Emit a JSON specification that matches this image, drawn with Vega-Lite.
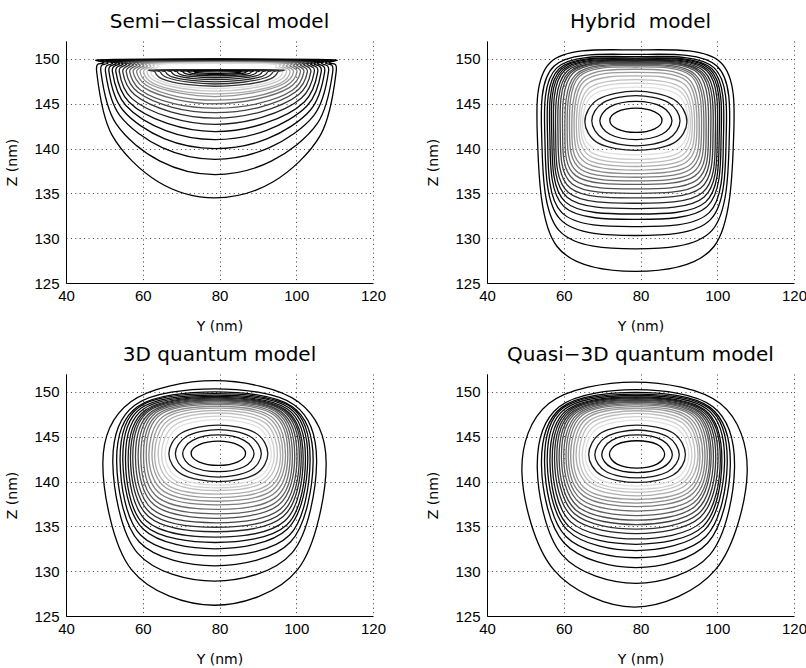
{
  "$schema": "https://vega.github.io/schema/vega-lite/v6.json",
  "autosize": {"type": "pad"},
  "padding": {"left": 5, "top": 12, "right": 0, "bottom": 0},
  "background": "white",
  "columns": 2,
  "spacing": {"row": 91, "column": 114},
  "bounds": "flush",
  "config": {
    "view": {"stroke": null},
    "axis": {
      "domainColor": "#000000",
      "domainWidth": 1,
      "labelFont": "Liberation Sans",
      "labelFontSize": 15,
      "labelColor": "#000000",
      "titleFont": "DejaVu Sans",
      "titleFontSize": 14,
      "titleFontWeight": "normal",
      "titleColor": "#000000",
      "ticks": false,
      "tickSize": 0,
      "grid": true,
      "gridColor": "#3a3a3a",
      "gridDash": [1, 3.4],
      "gridWidth": 1,
      "gridOpacity": 1,
      "labelFlush": false,
      "labelOverlap": false
    },
    "axisX": {"labelBaseline": "alphabetic", "labelPadding": 17, "titlePadding": 16},
    "axisY": {"labelPadding": 7, "titlePadding": 14},
    "title": {"font": "DejaVu Sans", "fontSize": 20, "fontWeight": "normal", "color": "#000000", "offset": 9, "baseline": "alphabetic"}
  },
  "datasets": {
    "semi": [
      {"k":0,"y":52.5,"z":149.95},{"k":0,"y":49.8,"z":149.55},{"k":0,"y":48.0,"z":148.55},{"k":0,"y":52.0,"z":141.5},{"k":0,"y":64.0,"z":136.3},{"k":0,"y":78.8,"z":134.5},{"k":0,"y":94.0,"z":136.3},{"k":0,"y":106.3,"z":141.5},{"k":0,"y":110.4,"z":148.55},{"k":0,"y":108.6,"z":149.55},{"k":0,"y":105.9,"z":149.95},
      {"k":1,"y":53.6,"z":149.92},{"k":1,"y":50.9,"z":149.52},{"k":1,"y":49.1,"z":148.55},{"k":1,"y":53.0,"z":142.8},{"k":1,"y":64.5,"z":138.6},{"k":1,"y":78.8,"z":137.1},{"k":1,"y":93.5,"z":138.6},{"k":1,"y":105.5,"z":142.8},{"k":1,"y":109.5,"z":148.55},{"k":1,"y":107.7,"z":149.52},{"k":1,"y":105.0,"z":149.92},
      {"k":2,"y":54.8,"z":149.89},{"k":2,"y":52.1,"z":149.49},{"k":2,"y":50.3,"z":148.55},{"k":2,"y":54.0,"z":143.7},{"k":2,"y":65.1,"z":140.1},{"k":2,"y":78.8,"z":138.8},{"k":2,"y":93.0,"z":140.1},{"k":2,"y":104.6,"z":143.7},{"k":2,"y":108.4,"z":148.55},{"k":2,"y":106.6,"z":149.49},{"k":2,"y":103.9,"z":149.89},
      {"k":3,"y":55.7,"z":149.85},{"k":3,"y":53.0,"z":149.45},{"k":3,"y":51.2,"z":148.55},{"k":3,"y":54.8,"z":144.3},{"k":3,"y":65.6,"z":141.1},{"k":3,"y":78.8,"z":140.0},{"k":3,"y":92.5,"z":141.1},{"k":3,"y":103.7,"z":144.3},{"k":3,"y":107.4,"z":148.55},{"k":3,"y":105.6,"z":149.45},{"k":3,"y":102.9,"z":149.85},
      {"k":4,"y":56.6,"z":149.82},{"k":4,"y":53.9,"z":149.42},{"k":4,"y":52.1,"z":148.55},{"k":4,"y":55.6,"z":144.8},{"k":4,"y":66.0,"z":142.0},{"k":4,"y":78.8,"z":141.0},{"k":4,"y":92.1,"z":142.0},{"k":4,"y":102.9,"z":144.8},{"k":4,"y":106.5,"z":148.55},{"k":4,"y":104.7,"z":149.42},{"k":4,"y":102.0,"z":149.82},
      {"k":5,"y":57.5,"z":149.79},{"k":5,"y":54.8,"z":149.39},{"k":5,"y":53.0,"z":148.55},{"k":5,"y":56.4,"z":145.2},{"k":5,"y":66.4,"z":142.8},{"k":5,"y":78.8,"z":141.9},{"k":5,"y":91.7,"z":142.8},{"k":5,"y":102.1,"z":145.2},{"k":5,"y":105.6,"z":148.55},{"k":5,"y":103.8,"z":149.39},{"k":5,"y":101.1,"z":149.79},
      {"k":6,"y":58.4,"z":149.76},{"k":6,"y":55.7,"z":149.36},{"k":6,"y":53.9,"z":148.55},{"k":6,"y":57.1,"z":145.6},{"k":6,"y":66.9,"z":143.5},{"k":6,"y":78.8,"z":142.7},{"k":6,"y":91.2,"z":143.5},{"k":6,"y":101.3,"z":145.6},{"k":6,"y":104.7,"z":148.55},{"k":6,"y":102.9,"z":149.36},{"k":6,"y":100.2,"z":149.76},
      {"k":7,"y":59.3,"z":149.73},{"k":7,"y":56.6,"z":149.33},{"k":7,"y":54.8,"z":148.55},{"k":7,"y":57.9,"z":146.0},{"k":7,"y":67.3,"z":144.1},{"k":7,"y":78.8,"z":143.4},{"k":7,"y":90.8,"z":144.1},{"k":7,"y":100.6,"z":146.0},{"k":7,"y":103.8,"z":148.55},{"k":7,"y":102.0,"z":149.33},{"k":7,"y":99.3,"z":149.73},
      {"k":8,"y":60.2,"z":149.7},{"k":8,"y":57.5,"z":149.3},{"k":8,"y":55.7,"z":148.55},{"k":8,"y":58.7,"z":146.3},{"k":8,"y":67.7,"z":144.6},{"k":8,"y":78.8,"z":144.0},{"k":8,"y":90.4,"z":144.6},{"k":8,"y":99.8,"z":146.3},{"k":8,"y":102.9,"z":148.55},{"k":8,"y":101.1,"z":149.3},{"k":8,"y":98.4,"z":149.7},
      {"k":9,"y":61.1,"z":149.66},{"k":9,"y":58.4,"z":149.26},{"k":9,"y":56.6,"z":148.55},{"k":9,"y":59.5,"z":146.5},{"k":9,"y":68.1,"z":145.0},{"k":9,"y":78.8,"z":144.5},{"k":9,"y":89.9,"z":145.0},{"k":9,"y":99.0,"z":146.5},{"k":9,"y":102.0,"z":148.55},{"k":9,"y":100.2,"z":149.26},{"k":9,"y":97.5,"z":149.66},
      {"k":10,"y":62.0,"z":149.63},{"k":10,"y":59.3,"z":149.23},{"k":10,"y":57.5,"z":148.55},{"k":10,"y":60.3,"z":146.8},{"k":10,"y":68.6,"z":145.5},{"k":10,"y":78.8,"z":145.0},{"k":10,"y":89.5,"z":145.5},{"k":10,"y":98.2,"z":146.8},{"k":10,"y":101.1,"z":148.55},{"k":10,"y":99.3,"z":149.23},{"k":10,"y":96.6,"z":149.63},
      {"k":11,"y":62.9,"z":149.6},{"k":11,"y":60.2,"z":149.2},{"k":11,"y":58.4,"z":148.55},{"k":11,"y":61.1,"z":147.0},{"k":11,"y":69.0,"z":145.8},{"k":11,"y":78.8,"z":145.4},{"k":11,"y":89.1,"z":145.8},{"k":11,"y":97.4,"z":147.0},{"k":11,"y":100.2,"z":148.55},{"k":11,"y":98.4,"z":149.2},{"k":11,"y":95.7,"z":149.6},
      {"k":12,"y":63.8,"z":149.57},{"k":12,"y":61.1,"z":149.17},{"k":12,"y":59.3,"z":148.55},{"k":12,"y":61.8,"z":147.2},{"k":12,"y":69.4,"z":146.2},{"k":12,"y":78.8,"z":145.8},{"k":12,"y":88.6,"z":146.2},{"k":12,"y":96.6,"z":147.2},{"k":12,"y":99.3,"z":148.55},{"k":12,"y":97.5,"z":149.17},{"k":12,"y":94.8,"z":149.57},
      {"k":13,"y":64.7,"z":149.53},{"k":13,"y":62.0,"z":149.13},{"k":13,"y":60.2,"z":148.55},{"k":13,"y":62.6,"z":147.3},{"k":13,"y":69.9,"z":146.4},{"k":13,"y":78.8,"z":146.1},{"k":13,"y":88.2,"z":146.4},{"k":13,"y":95.9,"z":147.3},{"k":13,"y":98.4,"z":148.55},{"k":13,"y":96.6,"z":149.13},{"k":13,"y":93.9,"z":149.53},
      {"k":14,"y":65.6,"z":149.5},{"k":14,"y":62.9,"z":149.1},{"k":14,"y":61.1,"z":148.55},{"k":14,"y":63.4,"z":147.5},{"k":14,"y":70.3,"z":146.7},{"k":14,"y":78.8,"z":146.4},{"k":14,"y":87.8,"z":146.7},{"k":14,"y":95.1,"z":147.5},{"k":14,"y":97.5,"z":148.55},{"k":14,"y":95.7,"z":149.1},{"k":14,"y":93.0,"z":149.5},
      {"k":15,"y":66.6,"z":149.47},{"k":15,"y":63.9,"z":149.07},{"k":15,"y":62.1,"z":148.55},{"k":15,"y":64.3,"z":147.6},{"k":15,"y":70.8,"z":146.9},{"k":15,"y":78.8,"z":146.7},{"k":15,"y":87.3,"z":146.9},{"k":15,"y":94.2,"z":147.6},{"k":15,"y":96.5,"z":148.55},{"k":15,"y":94.7,"z":149.07},{"k":15,"y":92.0,"z":149.47},
      {"k":16,"y":64.2,"z":148.78},{"k":16,"y":63.2,"z":148.55},{"k":16,"y":65.2,"z":147.75},{"k":16,"y":71.3,"z":147.15},{"k":16,"y":78.8,"z":146.95},{"k":16,"y":86.7,"z":147.15},{"k":16,"y":93.1,"z":147.75},{"k":16,"y":95.2,"z":148.55},{"k":16,"y":94.2,"z":148.78},
      {"k":17,"y":65.6,"z":148.76},{"k":17,"y":64.6,"z":148.55},{"k":17,"y":66.5,"z":147.9},{"k":17,"y":72.0,"z":147.4},{"k":17,"y":78.8,"z":147.2},{"k":17,"y":86.1,"z":147.4},{"k":17,"y":91.9,"z":147.9},{"k":17,"y":93.9,"z":148.55},{"k":17,"y":92.9,"z":148.76},
      {"k":18,"y":67.0,"z":148.74},{"k":18,"y":66.0,"z":148.55},{"k":18,"y":67.7,"z":148.0},{"k":18,"y":72.7,"z":147.6},{"k":18,"y":78.8,"z":147.45},{"k":18,"y":85.4,"z":147.6},{"k":18,"y":90.7,"z":148.0},{"k":18,"y":92.5,"z":148.55},{"k":18,"y":91.5,"z":148.74},
      {"k":19,"y":68.5,"z":148.72},{"k":19,"y":67.5,"z":148.55},{"k":19,"y":69.0,"z":148.1},{"k":19,"y":73.4,"z":147.8},{"k":19,"y":78.8,"z":147.7},{"k":19,"y":84.7,"z":147.8},{"k":19,"y":89.5,"z":148.1},{"k":19,"y":91.1,"z":148.55},{"k":19,"y":90.1,"z":148.72},
      {"k":20,"y":70.0,"z":148.7},{"k":20,"y":69.0,"z":148.55},{"k":20,"y":70.3,"z":148.2},{"k":20,"y":74.1,"z":148.0},{"k":20,"y":78.8,"z":147.9},{"k":20,"y":84.0,"z":148.0},{"k":20,"y":88.3,"z":148.2},{"k":20,"y":89.7,"z":148.55},{"k":20,"y":88.7,"z":148.7},
      {"k":21,"y":71.5,"z":148.68},{"k":21,"y":70.5,"z":148.55},{"k":21,"y":71.6,"z":148.3},{"k":21,"y":74.8,"z":148.15},{"k":21,"y":78.8,"z":148.1},{"k":21,"y":83.4,"z":148.15},{"k":21,"y":87.1,"z":148.3},{"k":21,"y":88.3,"z":148.55},{"k":21,"y":87.3,"z":148.68},
      {"k":22,"y":73.0,"z":148.66},{"k":22,"y":72.0,"z":148.55},{"k":22,"y":72.9,"z":148.4},{"k":22,"y":75.5,"z":148.3},{"k":22,"y":78.8,"z":148.25},{"k":22,"y":82.7,"z":148.3},{"k":22,"y":85.9,"z":148.4},{"k":22,"y":86.9,"z":148.55},{"k":22,"y":85.9,"z":148.66},
      {"k":23,"y":74.5,"z":148.64},{"k":23,"y":73.5,"z":148.55},{"k":23,"y":74.2,"z":148.48},{"k":23,"y":76.3,"z":148.42},{"k":23,"y":78.8,"z":148.4},{"k":23,"y":82.0,"z":148.42},{"k":23,"y":84.6,"z":148.48},{"k":23,"y":85.5,"z":148.55},{"k":23,"y":84.5,"z":148.64}
    ],
    "hybrid": [
      {"k":0,"y":104.2,"z":140.5},{"k":0,"y":100.9,"z":149.6},{"k":0,"y":78.7,"z":151.0},{"k":0,"y":56.5,"z":149.6},{"k":0,"y":53.2,"z":140.5},{"k":0,"y":58.2,"z":129.1},{"k":0,"y":78.7,"z":126.3},{"k":0,"y":99.2,"z":129.1},
      {"k":1,"y":103.1,"z":140.7},{"k":1,"y":99.9,"z":149.2},{"k":1,"y":78.7,"z":150.5},{"k":1,"y":57.5,"z":149.2},{"k":1,"y":54.3,"z":140.7},{"k":1,"y":58.7,"z":130.9},{"k":1,"y":78.7,"z":128.8},{"k":1,"y":98.7,"z":130.9},
      {"k":2,"y":102.3,"z":140.9},{"k":2,"y":99.2,"z":149.0},{"k":2,"y":78.7,"z":150.25},{"k":2,"y":58.2,"z":149.0},{"k":2,"y":55.1,"z":140.9},{"k":2,"y":59.1,"z":132.1},{"k":2,"y":78.7,"z":130.3},{"k":2,"y":98.3,"z":132.1},
      {"k":3,"y":101.6,"z":141.0},{"k":3,"y":98.6,"z":148.9},{"k":3,"y":78.7,"z":150.1},{"k":3,"y":58.8,"z":148.9},{"k":3,"y":55.8,"z":141.0},{"k":3,"y":59.5,"z":132.85},{"k":3,"y":78.7,"z":131.3},{"k":3,"y":97.9,"z":132.85},
      {"k":4,"y":101.0,"z":141.1},{"k":4,"y":98.1,"z":148.85},{"k":4,"y":78.7,"z":150.0},{"k":4,"y":59.3,"z":148.85},{"k":4,"y":56.4,"z":141.1},{"k":4,"y":60.0,"z":133.55},{"k":4,"y":78.7,"z":132.1},{"k":4,"y":97.4,"z":133.55},
      {"k":5,"y":100.5,"z":141.2},{"k":5,"y":97.7,"z":148.75},{"k":5,"y":78.7,"z":149.9},{"k":5,"y":59.7,"z":148.75},{"k":5,"y":56.9,"z":141.2},{"k":5,"y":60.4,"z":134.05},{"k":5,"y":78.7,"z":132.7},{"k":5,"y":97.0,"z":134.05},
      {"k":6,"y":100.0,"z":141.3},{"k":6,"y":97.2,"z":148.7},{"k":6,"y":78.7,"z":149.82},{"k":6,"y":60.2,"z":148.7},{"k":6,"y":57.4,"z":141.3},{"k":6,"y":60.8,"z":134.6},{"k":6,"y":78.7,"z":133.3},{"k":6,"y":96.6,"z":134.6},
      {"k":7,"y":99.5,"z":141.4},{"k":7,"y":96.6,"z":148.6},{"k":7,"y":78.7,"z":149.74},{"k":7,"y":60.8,"z":148.6},{"k":7,"y":57.9,"z":141.4},{"k":7,"y":61.2,"z":135.1},{"k":7,"y":78.7,"z":133.9},{"k":7,"y":96.2,"z":135.1},
      {"k":8,"y":98.9,"z":141.5},{"k":8,"y":96.1,"z":148.5},{"k":8,"y":78.7,"z":149.66},{"k":8,"y":61.3,"z":148.5},{"k":8,"y":58.5,"z":141.5},{"k":8,"y":61.7,"z":135.6},{"k":8,"y":78.7,"z":134.5},{"k":8,"y":95.7,"z":135.6},
      {"k":9,"y":98.3,"z":141.6},{"k":9,"y":95.6,"z":148.45},{"k":9,"y":78.7,"z":149.58},{"k":9,"y":61.8,"z":148.45},{"k":9,"y":59.1,"z":141.6},{"k":9,"y":62.2,"z":136.05},{"k":9,"y":78.7,"z":135.0},{"k":9,"y":95.2,"z":136.05},
      {"k":10,"y":97.7,"z":141.7},{"k":10,"y":95.0,"z":148.4},{"k":10,"y":78.7,"z":149.5},{"k":10,"y":62.4,"z":148.4},{"k":10,"y":59.7,"z":141.7},{"k":10,"y":62.7,"z":136.5},{"k":10,"y":78.7,"z":135.5},{"k":10,"y":94.7,"z":136.5},
      {"k":11,"y":97.1,"z":141.8},{"k":11,"y":94.3,"z":148.25},{"k":11,"y":78.7,"z":149.4},{"k":11,"y":63.1,"z":148.25},{"k":11,"y":60.3,"z":141.8},{"k":11,"y":63.2,"z":136.95},{"k":11,"y":78.7,"z":136.0},{"k":11,"y":94.2,"z":136.95},
      {"k":12,"y":96.5,"z":141.9},{"k":12,"y":93.8,"z":148.15},{"k":12,"y":78.7,"z":149.28},{"k":12,"y":63.6,"z":148.15},{"k":12,"y":60.9,"z":141.9},{"k":12,"y":63.8,"z":137.3},{"k":12,"y":78.7,"z":136.4},{"k":12,"y":93.6,"z":137.3},
      {"k":13,"y":95.9,"z":142.0},{"k":13,"y":93.3,"z":148.05},{"k":13,"y":78.7,"z":149.1},{"k":13,"y":64.1,"z":148.05},{"k":13,"y":61.5,"z":142.0},{"k":13,"y":64.4,"z":137.7},{"k":13,"y":78.7,"z":136.8},{"k":13,"y":93.0,"z":137.7},
      {"k":14,"y":95.3,"z":142.1},{"k":14,"y":92.6,"z":147.75},{"k":14,"y":78.7,"z":148.85},{"k":14,"y":64.8,"z":147.75},{"k":14,"y":62.1,"z":142.1},{"k":14,"y":64.9,"z":138.05},{"k":14,"y":78.7,"z":137.2},{"k":14,"y":92.5,"z":138.05},
      {"k":15,"y":94.7,"z":142.2},{"k":15,"y":92.1,"z":147.5},{"k":15,"y":78.7,"z":148.5},{"k":15,"y":65.3,"z":147.5},{"k":15,"y":62.7,"z":142.2},{"k":15,"y":65.6,"z":138.45},{"k":15,"y":78.7,"z":137.6},{"k":15,"y":91.8,"z":138.45},
      {"k":16,"y":94.1,"z":142.4},{"k":16,"y":91.5,"z":147.15},{"k":16,"y":78.7,"z":148.1},{"k":16,"y":65.9,"z":147.15},{"k":16,"y":63.3,"z":142.4},{"k":16,"y":66.1,"z":138.8},{"k":16,"y":78.7,"z":138.0},{"k":16,"y":91.3,"z":138.8},
      {"k":17,"y":93.5,"z":142.5},{"k":17,"y":90.8,"z":146.75},{"k":17,"y":78.7,"z":147.7},{"k":17,"y":66.6,"z":146.75},{"k":17,"y":63.9,"z":142.5},{"k":17,"y":66.7,"z":139.2},{"k":17,"y":78.7,"z":138.4},{"k":17,"y":90.7,"z":139.2},
      {"k":18,"y":93.0,"z":142.6},{"k":18,"y":90.3,"z":146.4},{"k":18,"y":78.7,"z":147.3},{"k":18,"y":67.1,"z":146.4},{"k":18,"y":64.4,"z":142.6},{"k":18,"y":67.3,"z":139.55},{"k":18,"y":78.7,"z":138.8},{"k":18,"y":90.1,"z":139.55},
      {"k":19,"y":92.5,"z":142.7},{"k":19,"y":89.7,"z":146.0},{"k":19,"y":78.7,"z":146.85},{"k":19,"y":67.7,"z":146.0},{"k":19,"y":64.9,"z":142.7},{"k":19,"y":67.8,"z":140.0},{"k":19,"y":78.7,"z":139.3},{"k":19,"y":89.6,"z":140.0},
      {"k":20,"y":92.1,"z":143.0},{"k":20,"y":88.6,"z":145.5},{"k":20,"y":78.8,"z":146.4},{"k":20,"y":69.0,"z":145.5},{"k":20,"y":65.5,"z":143.0},{"k":20,"y":69.0,"z":140.6},{"k":20,"y":78.8,"z":139.8},{"k":20,"y":88.6,"z":140.6},
      {"k":21,"y":90.3,"z":143.1},{"k":21,"y":87.2,"z":145.15},{"k":21,"y":78.8,"z":145.9},{"k":21,"y":70.4,"z":145.15},{"k":21,"y":67.3,"z":143.1},{"k":21,"y":70.4,"z":141.05},{"k":21,"y":78.8,"z":140.3},{"k":21,"y":87.2,"z":141.05},
      {"k":22,"y":88.2,"z":143.1},{"k":22,"y":85.6,"z":144.65},{"k":22,"y":78.8,"z":145.26},{"k":22,"y":72.0,"z":144.65},{"k":22,"y":69.4,"z":143.1},{"k":22,"y":72.0,"z":141.6},{"k":22,"y":78.8,"z":141.0},{"k":22,"y":85.6,"z":141.6},
      {"k":23,"y":85.6,"z":143.15},{"k":23,"y":83.7,"z":144.1},{"k":23,"y":78.8,"z":144.5},{"k":23,"y":73.9,"z":144.1},{"k":23,"y":72.0,"z":143.15},{"k":23,"y":73.9,"z":142.2},{"k":23,"y":78.8,"z":141.8},{"k":23,"y":83.7,"z":142.2}
    ],
    "full3d": [
      {"k":0,"y":107.8,"z":142.0},{"k":0,"y":100.5,"z":148.9},{"k":0,"y":78.7,"z":151.25},{"k":0,"y":56.9,"z":148.9},{"k":0,"y":49.6,"z":142.0},{"k":0,"y":57.0,"z":130.2},{"k":0,"y":78.7,"z":126.2},{"k":0,"y":100.4,"z":130.2},
      {"k":1,"y":105.3,"z":142.1},{"k":1,"y":99.5,"z":148.55},{"k":1,"y":78.75,"z":150.35},{"k":1,"y":58.0,"z":148.55},{"k":1,"y":52.2,"z":142.1},{"k":1,"y":58.6,"z":132.05},{"k":1,"y":78.75,"z":128.9},{"k":1,"y":98.9,"z":132.05},
      {"k":2,"y":104.4,"z":142.2},{"k":2,"y":99.0,"z":148.35},{"k":2,"y":78.8,"z":150.0},{"k":2,"y":58.6,"z":148.35},{"k":2,"y":53.2,"z":142.2},{"k":2,"y":59.1,"z":133.25},{"k":2,"y":78.8,"z":130.6},{"k":2,"y":98.5,"z":133.25},
      {"k":3,"y":103.6,"z":142.3},{"k":3,"y":98.7,"z":148.3},{"k":3,"y":78.85,"z":149.8},{"k":3,"y":59.0,"z":148.3},{"k":3,"y":54.1,"z":142.3},{"k":3,"y":59.5,"z":134.0},{"k":3,"y":78.85,"z":131.7},{"k":3,"y":98.2,"z":134.0},
      {"k":4,"y":103.0,"z":142.4},{"k":4,"y":98.2,"z":148.2},{"k":4,"y":78.9,"z":149.65},{"k":4,"y":59.6,"z":148.2},{"k":4,"y":54.8,"z":142.4},{"k":4,"y":60.1,"z":134.7},{"k":4,"y":78.9,"z":132.5},{"k":4,"y":97.7,"z":134.7},
      {"k":5,"y":102.4,"z":142.5},{"k":5,"y":97.7,"z":148.1},{"k":5,"y":78.95,"z":149.5},{"k":5,"y":60.2,"z":148.1},{"k":5,"y":55.5,"z":142.5},{"k":5,"y":60.4,"z":135.15},{"k":5,"y":78.95,"z":133.2},{"k":5,"y":97.5,"z":135.15},
      {"k":6,"y":101.8,"z":142.5},{"k":6,"y":97.2,"z":148.0},{"k":6,"y":79.0,"z":149.4},{"k":6,"y":60.8,"z":148.0},{"k":6,"y":56.2,"z":142.5},{"k":6,"y":61.0,"z":135.6},{"k":6,"y":79.0,"z":133.8},{"k":6,"y":97.0,"z":135.6},
      {"k":7,"y":101.3,"z":142.6},{"k":7,"y":96.9,"z":147.95},{"k":7,"y":79.05,"z":149.3},{"k":7,"y":61.3,"z":147.95},{"k":7,"y":56.8,"z":142.6},{"k":7,"y":61.5,"z":136.1},{"k":7,"y":79.05,"z":134.4},{"k":7,"y":96.6,"z":136.1},
      {"k":8,"y":100.8,"z":142.6},{"k":8,"y":96.5,"z":147.9},{"k":8,"y":79.1,"z":149.2},{"k":8,"y":61.7,"z":147.9},{"k":8,"y":57.4,"z":142.6},{"k":8,"y":62.0,"z":136.5},{"k":8,"y":79.1,"z":134.9},{"k":8,"y":96.2,"z":136.5},
      {"k":9,"y":100.2,"z":142.7},{"k":9,"y":96.0,"z":147.8},{"k":9,"y":79.15,"z":149.1},{"k":9,"y":62.3,"z":147.8},{"k":9,"y":58.1,"z":142.7},{"k":9,"y":62.5,"z":136.9},{"k":9,"y":79.15,"z":135.4},{"k":9,"y":95.8,"z":136.9},
      {"k":10,"y":99.6,"z":142.7},{"k":10,"y":95.5,"z":147.75},{"k":10,"y":79.2,"z":149.0},{"k":10,"y":62.9,"z":147.75},{"k":10,"y":58.8,"z":142.7},{"k":10,"y":63.1,"z":137.35},{"k":10,"y":79.2,"z":135.9},{"k":10,"y":95.3,"z":137.35},
      {"k":11,"y":99.0,"z":142.8},{"k":11,"y":95.0,"z":147.7},{"k":11,"y":79.25,"z":148.9},{"k":11,"y":63.5,"z":147.7},{"k":11,"y":59.5,"z":142.8},{"k":11,"y":63.6,"z":137.75},{"k":11,"y":79.25,"z":136.4},{"k":11,"y":94.9,"z":137.75},
      {"k":12,"y":98.4,"z":142.8},{"k":12,"y":94.6,"z":147.55},{"k":12,"y":79.3,"z":148.75},{"k":12,"y":64.0,"z":147.55},{"k":12,"y":60.2,"z":142.8},{"k":12,"y":64.2,"z":138.15},{"k":12,"y":79.3,"z":136.9},{"k":12,"y":94.4,"z":138.15},
      {"k":13,"y":97.8,"z":142.9},{"k":13,"y":94.1,"z":147.45},{"k":13,"y":79.35,"z":148.6},{"k":13,"y":64.6,"z":147.45},{"k":13,"y":60.9,"z":142.9},{"k":13,"y":64.8,"z":138.55},{"k":13,"y":79.35,"z":137.4},{"k":13,"y":93.9,"z":138.55},
      {"k":14,"y":97.2,"z":142.9},{"k":14,"y":93.5,"z":147.25},{"k":14,"y":79.4,"z":148.4},{"k":14,"y":65.3,"z":147.25},{"k":14,"y":61.6,"z":142.9},{"k":14,"y":65.5,"z":138.9},{"k":14,"y":79.4,"z":137.8},{"k":14,"y":93.3,"z":138.9},
      {"k":15,"y":96.5,"z":143.0},{"k":15,"y":92.9,"z":147.1},{"k":15,"y":79.45,"z":148.2},{"k":15,"y":66.0,"z":147.1},{"k":15,"y":62.4,"z":143.0},{"k":15,"y":66.2,"z":139.25},{"k":15,"y":79.45,"z":138.2},{"k":15,"y":92.8,"z":139.25},
      {"k":16,"y":95.9,"z":143.0},{"k":16,"y":92.3,"z":146.85},{"k":16,"y":79.5,"z":147.95},{"k":16,"y":66.7,"z":146.85},{"k":16,"y":63.1,"z":143.0},{"k":16,"y":66.7,"z":139.55},{"k":16,"y":79.5,"z":138.6},{"k":16,"y":92.3,"z":139.55},
      {"k":17,"y":95.1,"z":143.0},{"k":17,"y":91.7,"z":146.6},{"k":17,"y":79.55,"z":147.65},{"k":17,"y":67.4,"z":146.6},{"k":17,"y":64.0,"z":143.0},{"k":17,"y":67.6,"z":139.9},{"k":17,"y":79.55,"z":139.0},{"k":17,"y":91.5,"z":139.9},
      {"k":18,"y":94.3,"z":143.05},{"k":18,"y":90.9,"z":146.3},{"k":18,"y":79.6,"z":147.3},{"k":18,"y":68.3,"z":146.3},{"k":18,"y":64.9,"z":143.05},{"k":18,"y":68.3,"z":140.15},{"k":18,"y":79.6,"z":139.3},{"k":18,"y":90.9,"z":140.15},
      {"k":19,"y":93.5,"z":143.05},{"k":19,"y":90.2,"z":146.0},{"k":19,"y":79.65,"z":146.9},{"k":19,"y":69.1,"z":146.0},{"k":19,"y":65.8,"z":143.05},{"k":19,"y":69.1,"z":140.45},{"k":19,"y":79.65,"z":139.6},{"k":19,"y":90.2,"z":140.45},
      {"k":20,"y":92.6,"z":143.1},{"k":20,"y":89.3,"z":145.45},{"k":20,"y":79.7,"z":146.3},{"k":20,"y":70.2,"z":145.45},{"k":20,"y":66.8,"z":143.1},{"k":20,"y":70.2,"z":140.8},{"k":20,"y":79.7,"z":140.0},{"k":20,"y":89.3,"z":140.8},
      {"k":21,"y":90.9,"z":143.1},{"k":21,"y":87.9,"z":145.05},{"k":21,"y":79.7,"z":145.8},{"k":21,"y":71.5,"z":145.05},{"k":21,"y":68.5,"z":143.1},{"k":21,"y":71.5,"z":141.2},{"k":21,"y":79.7,"z":140.5},{"k":21,"y":87.9,"z":141.2},
      {"k":22,"y":89.0,"z":143.1},{"k":22,"y":86.4,"z":144.6},{"k":22,"y":79.7,"z":145.2},{"k":22,"y":73.0,"z":144.6},{"k":22,"y":70.4,"z":143.1},{"k":22,"y":73.0,"z":141.65},{"k":22,"y":79.7,"z":141.1},{"k":22,"y":86.4,"z":141.65},
      {"k":23,"y":86.8,"z":143.15},{"k":23,"y":84.8,"z":144.1},{"k":23,"y":79.7,"z":144.5},{"k":23,"y":74.6,"z":144.1},{"k":23,"y":72.6,"z":143.15},{"k":23,"y":74.6,"z":142.2},{"k":23,"y":79.7,"z":141.8},{"k":23,"y":84.8,"z":142.2}
    ],
    "quasi3d": [
      {"k":0,"y":107.8,"z":141.0},{"k":0,"y":100.8,"z":148.7},{"k":0,"y":78.45,"z":151.1},{"k":0,"y":56.1,"z":148.7},{"k":0,"y":49.1,"z":141.0},{"k":0,"y":57.3,"z":130.2},{"k":0,"y":78.45,"z":126.0},{"k":0,"y":99.6,"z":130.2},
      {"k":1,"y":104.5,"z":141.5},{"k":1,"y":98.9,"z":148.35},{"k":1,"y":78.8,"z":150.25},{"k":1,"y":58.8,"z":148.35},{"k":1,"y":53.1,"z":141.5},{"k":1,"y":59.5,"z":131.85},{"k":1,"y":78.8,"z":128.65},{"k":1,"y":98.1,"z":131.85},
      {"k":2,"y":103.4,"z":141.8},{"k":2,"y":98.2,"z":148.25},{"k":2,"y":78.8,"z":149.95},{"k":2,"y":59.4,"z":148.25},{"k":2,"y":54.2,"z":141.8},{"k":2,"y":60.1,"z":133.15},{"k":2,"y":78.8,"z":130.4},{"k":2,"y":97.5,"z":133.15},
      {"k":3,"y":102.6,"z":142.0},{"k":3,"y":97.8,"z":148.2},{"k":3,"y":78.8,"z":149.75},{"k":3,"y":59.8,"z":148.2},{"k":3,"y":55.0,"z":142.0},{"k":3,"y":60.5,"z":133.9},{"k":3,"y":78.8,"z":131.5},{"k":3,"y":97.1,"z":133.9},
      {"k":4,"y":101.9,"z":142.1},{"k":4,"y":97.3,"z":148.1},{"k":4,"y":78.8,"z":149.6},{"k":4,"y":60.3,"z":148.1},{"k":4,"y":55.7,"z":142.1},{"k":4,"y":61.0,"z":134.55},{"k":4,"y":78.8,"z":132.3},{"k":4,"y":96.6,"z":134.55},
      {"k":5,"y":101.2,"z":142.2},{"k":5,"y":96.7,"z":148.0},{"k":5,"y":78.8,"z":149.45},{"k":5,"y":60.9,"z":148.0},{"k":5,"y":56.4,"z":142.2},{"k":5,"y":61.3,"z":135.0},{"k":5,"y":78.8,"z":133.0},{"k":5,"y":96.3,"z":135.0},
      {"k":6,"y":100.8,"z":142.3},{"k":6,"y":96.4,"z":147.95},{"k":6,"y":78.9,"z":149.35},{"k":6,"y":61.4,"z":147.95},{"k":6,"y":57.0,"z":142.3},{"k":6,"y":61.8,"z":135.5},{"k":6,"y":78.9,"z":133.6},{"k":6,"y":96.0,"z":135.5},
      {"k":7,"y":100.2,"z":142.4},{"k":7,"y":95.9,"z":147.9},{"k":7,"y":78.9,"z":149.25},{"k":7,"y":61.9,"z":147.9},{"k":7,"y":57.6,"z":142.4},{"k":7,"y":62.3,"z":136.0},{"k":7,"y":78.9,"z":134.2},{"k":7,"y":95.5,"z":136.0},
      {"k":8,"y":99.6,"z":142.5},{"k":8,"y":95.5,"z":147.8},{"k":8,"y":78.9,"z":149.15},{"k":8,"y":62.3,"z":147.8},{"k":8,"y":58.2,"z":142.5},{"k":8,"y":62.8,"z":136.4},{"k":8,"y":78.9,"z":134.7},{"k":8,"y":95.1,"z":136.4},
      {"k":9,"y":99.0,"z":142.5},{"k":9,"y":95.0,"z":147.75},{"k":9,"y":78.9,"z":149.05},{"k":9,"y":62.8,"z":147.75},{"k":9,"y":58.8,"z":142.5},{"k":9,"y":63.2,"z":136.8},{"k":9,"y":78.9,"z":135.2},{"k":9,"y":94.6,"z":136.8},
      {"k":10,"y":98.4,"z":142.6},{"k":10,"y":94.5,"z":147.7},{"k":10,"y":78.9,"z":148.95},{"k":10,"y":63.3,"z":147.7},{"k":10,"y":59.4,"z":142.6},{"k":10,"y":63.7,"z":137.2},{"k":10,"y":78.9,"z":135.7},{"k":10,"y":94.1,"z":137.2},
      {"k":11,"y":98.0,"z":142.6},{"k":11,"y":94.2,"z":147.6},{"k":11,"y":79.0,"z":148.85},{"k":11,"y":63.8,"z":147.6},{"k":11,"y":60.0,"z":142.6},{"k":11,"y":64.2,"z":137.6},{"k":11,"y":79.0,"z":136.2},{"k":11,"y":93.8,"z":137.6},
      {"k":12,"y":97.4,"z":142.7},{"k":12,"y":93.7,"z":147.5},{"k":12,"y":79.0,"z":148.7},{"k":12,"y":64.3,"z":147.5},{"k":12,"y":60.6,"z":142.7},{"k":12,"y":64.6,"z":138.0},{"k":12,"y":79.0,"z":136.7},{"k":12,"y":93.4,"z":138.0},
      {"k":13,"y":96.8,"z":142.7},{"k":13,"y":93.2,"z":147.4},{"k":13,"y":79.0,"z":148.55},{"k":13,"y":64.8,"z":147.4},{"k":13,"y":61.2,"z":142.7},{"k":13,"y":65.1,"z":138.4},{"k":13,"y":79.0,"z":137.2},{"k":13,"y":92.9,"z":138.4},
      {"k":14,"y":96.2,"z":142.8},{"k":14,"y":92.6,"z":147.2},{"k":14,"y":79.0,"z":148.35},{"k":14,"y":65.4,"z":147.2},{"k":14,"y":61.8,"z":142.8},{"k":14,"y":65.6,"z":138.75},{"k":14,"y":79.0,"z":137.6},{"k":14,"y":92.4,"z":138.75},
      {"k":15,"y":95.5,"z":142.8},{"k":15,"y":92.0,"z":147.05},{"k":15,"y":79.0,"z":148.15},{"k":15,"y":66.0,"z":147.05},{"k":15,"y":62.5,"z":142.8},{"k":15,"y":66.1,"z":139.05},{"k":15,"y":79.0,"z":138.0},{"k":15,"y":91.9,"z":139.05},
      {"k":16,"y":95.0,"z":142.9},{"k":16,"y":91.5,"z":146.8},{"k":16,"y":79.1,"z":147.9},{"k":16,"y":66.7,"z":146.8},{"k":16,"y":63.2,"z":142.9},{"k":16,"y":66.9,"z":139.45},{"k":16,"y":79.1,"z":138.4},{"k":16,"y":91.3,"z":139.45},
      {"k":17,"y":94.2,"z":142.9},{"k":17,"y":90.9,"z":146.55},{"k":17,"y":79.1,"z":147.6},{"k":17,"y":67.3,"z":146.55},{"k":17,"y":64.0,"z":142.9},{"k":17,"y":67.5,"z":139.75},{"k":17,"y":79.1,"z":138.8},{"k":17,"y":90.7,"z":139.75},
      {"k":18,"y":93.4,"z":142.95},{"k":18,"y":90.1,"z":146.25},{"k":18,"y":79.1,"z":147.25},{"k":18,"y":68.1,"z":146.25},{"k":18,"y":64.8,"z":142.95},{"k":18,"y":68.1,"z":140.0},{"k":18,"y":79.1,"z":139.15},{"k":18,"y":90.1,"z":140.0},
      {"k":19,"y":92.6,"z":143.0},{"k":19,"y":89.4,"z":145.95},{"k":19,"y":79.1,"z":146.85},{"k":19,"y":68.8,"z":145.95},{"k":19,"y":65.6,"z":143.0},{"k":19,"y":68.8,"z":140.35},{"k":19,"y":79.1,"z":139.5},{"k":19,"y":89.4,"z":140.35},
      {"k":20,"y":91.7,"z":143.0},{"k":20,"y":88.4,"z":145.45},{"k":20,"y":79.1,"z":146.3},{"k":20,"y":69.8,"z":145.45},{"k":20,"y":66.5,"z":143.0},{"k":20,"y":69.8,"z":140.7},{"k":20,"y":79.1,"z":139.9},{"k":20,"y":88.4,"z":140.7},
      {"k":21,"y":90.1,"z":143.0},{"k":21,"y":87.1,"z":145.0},{"k":21,"y":79.1,"z":145.75},{"k":21,"y":71.1,"z":145.0},{"k":21,"y":68.1,"z":143.0},{"k":21,"y":71.1,"z":141.1},{"k":21,"y":79.1,"z":140.4},{"k":21,"y":87.1,"z":141.1},
      {"k":22,"y":88.3,"z":143.0},{"k":22,"y":85.7,"z":144.6},{"k":22,"y":79.1,"z":145.2},{"k":22,"y":72.5,"z":144.6},{"k":22,"y":69.9,"z":143.0},{"k":22,"y":72.5,"z":141.55},{"k":22,"y":79.1,"z":141.0},{"k":22,"y":85.7,"z":141.55},
      {"k":23,"y":86.3,"z":143.05},{"k":23,"y":84.3,"z":144.15},{"k":23,"y":79.1,"z":144.55},{"k":23,"y":73.9,"z":144.15},{"k":23,"y":71.9,"z":143.05},{"k":23,"y":73.9,"z":141.95},{"k":23,"y":79.1,"z":141.5},{"k":23,"y":84.3,"z":141.95}
    ]
  },
  "concat": [
    {
      "title": "Semi−classical model",
      "width": 307, "height": 242,
      "data": {"name": "semi"},
      "mark": {"type": "line", "interpolate": "cardinal-closed", "strokeWidth": 1.3},
      "encoding": {
        "x": {"field": "y", "type": "quantitative", "scale": {"domain": [40, 120], "nice": false, "zero": false}, "axis": {"values": [40, 60, 80, 100, 120], "title": "Y (nm)"}},
        "y": {"field": "z", "type": "quantitative", "scale": {"domain": [125, 152], "nice": false, "zero": false}, "axis": {"values": [125, 130, 135, 140, 145, 150], "title": "Z (nm)"}},
        "detail": {"field": "k", "type": "nominal"},
        "order": {"value": null},
        "color": {"field": "k", "type": "quantitative", "legend": null, "scale": {"domain": [0, 5, 15, 15.5, 23], "range": ["#000000", "#0a0a0a", "#dcdcdc", "#3a3a3a", "#000000"]}}
      }
    },
    {
      "title": "Hybrid\u00a0 model",
      "width": 307, "height": 242,
      "data": {"name": "hybrid"},
      "mark": {"type": "line", "interpolate": "cardinal-closed", "strokeWidth": 1.3},
      "encoding": {
        "x": {"field": "y", "type": "quantitative", "scale": {"domain": [40, 120], "nice": false, "zero": false}, "axis": {"values": [40, 60, 80, 100, 120], "title": "Y (nm)"}},
        "y": {"field": "z", "type": "quantitative", "scale": {"domain": [125, 152], "nice": false, "zero": false}, "axis": {"values": [125, 130, 135, 140, 145, 150], "title": "Z (nm)"}},
        "detail": {"field": "k", "type": "nominal"},
        "order": {"value": null},
        "color": {"field": "k", "type": "quantitative", "legend": null, "scale": {"domain": [0, 5, 19, 19.5, 23], "range": ["#000000", "#0a0a0a", "#e0e0e0", "#1e1e1e", "#000000"]}}
      }
    },
    {
      "title": "3D quantum model",
      "width": 307, "height": 242,
      "data": {"name": "full3d"},
      "mark": {"type": "line", "interpolate": "cardinal-closed", "strokeWidth": 1.3},
      "encoding": {
        "x": {"field": "y", "type": "quantitative", "scale": {"domain": [40, 120], "nice": false, "zero": false}, "axis": {"values": [40, 60, 80, 100, 120], "title": "Y (nm)"}},
        "y": {"field": "z", "type": "quantitative", "scale": {"domain": [125, 152], "nice": false, "zero": false}, "axis": {"values": [125, 130, 135, 140, 145, 150], "title": "Z (nm)"}},
        "detail": {"field": "k", "type": "nominal"},
        "order": {"value": null},
        "color": {"field": "k", "type": "quantitative", "legend": null, "scale": {"domain": [0, 5, 19, 19.5, 23], "range": ["#000000", "#0a0a0a", "#e0e0e0", "#1e1e1e", "#000000"]}}
      }
    },
    {
      "title": "Quasi−3D quantum model",
      "width": 307, "height": 242,
      "data": {"name": "quasi3d"},
      "mark": {"type": "line", "interpolate": "cardinal-closed", "strokeWidth": 1.3},
      "encoding": {
        "x": {"field": "y", "type": "quantitative", "scale": {"domain": [40, 120], "nice": false, "zero": false}, "axis": {"values": [40, 60, 80, 100, 120], "title": "Y (nm)"}},
        "y": {"field": "z", "type": "quantitative", "scale": {"domain": [125, 152], "nice": false, "zero": false}, "axis": {"values": [125, 130, 135, 140, 145, 150], "title": "Z (nm)"}},
        "detail": {"field": "k", "type": "nominal"},
        "order": {"value": null},
        "color": {"field": "k", "type": "quantitative", "legend": null, "scale": {"domain": [0, 5, 19, 19.5, 23], "range": ["#000000", "#0a0a0a", "#e0e0e0", "#1e1e1e", "#000000"]}}
      }
    }
  ],
  "resolve": {"scale": {"color": "independent"}}
}
